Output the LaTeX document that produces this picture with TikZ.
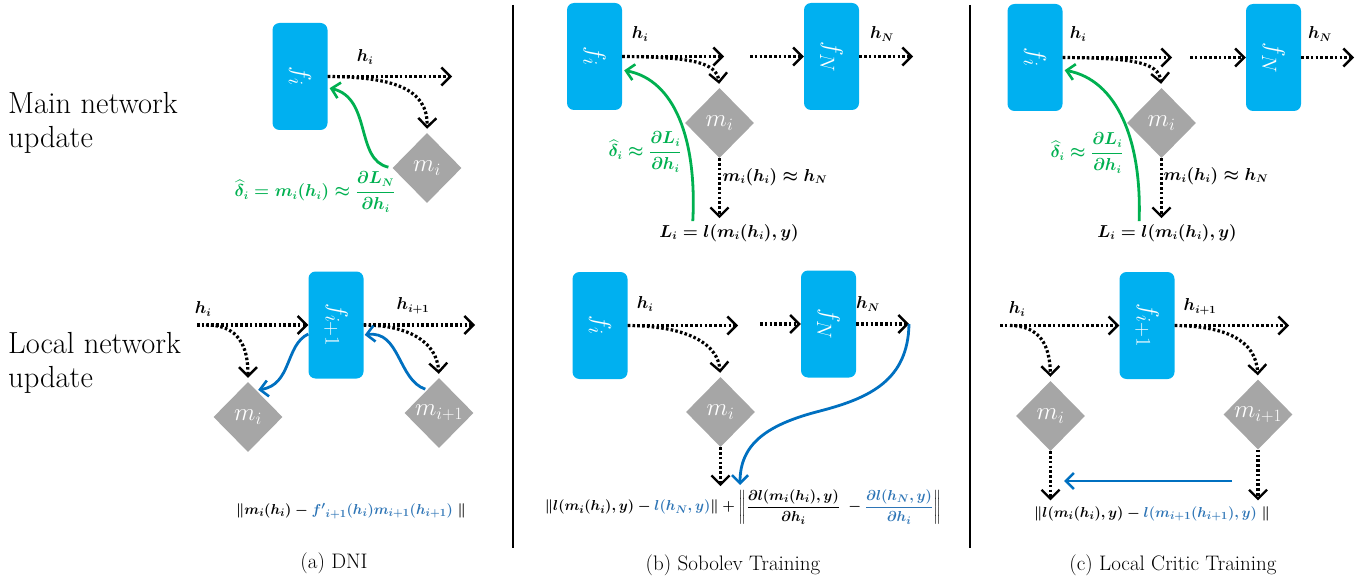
\documentclass[tikz,border=0pt]{standalone}
\usepackage{amsmath}
\usetikzlibrary{arrows.meta,shapes.geometric,calc}
\definecolor{boxblue}{HTML}{00B0F0}
\definecolor{diagray}{HTML}{A6A6A6}
\definecolor{grn}{HTML}{00B050}
\definecolor{blu}{HTML}{0070C0}
\definecolor{fblu}{HTML}{2E75B6}
\begin{document}
\begin{tikzpicture}[x=1pt,y=-1pt,
  box/.style={fill=boxblue, rounded corners=7pt, minimum width=55pt, minimum height=107pt, inner sep=0, text=white, font=\fontsize{29}{32}\selectfont},
  dia/.style={diamond, fill=diagray, minimum width=69pt, minimum height=70pt, inner sep=0, text=white, font=\fontsize{25}{28}\selectfont},
  lbl/.style={inner sep=0, font=\fontsize{16}{19}\selectfont\boldmath},
  frm/.style={inner sep=0, font=\fontsize{15.2}{18}\selectfont\boldmath},
  glbl/.style={lbl, text=grn},
  side/.style={inner sep=0, anchor=north west, align=left, font=\fontsize{30.5}{34}\selectfont},
  captext/.style={inner sep=0, font=\fontsize{21}{24}\selectfont},
  tipb/.style={-{Straight Barb[length=9pt,width=18pt,line width=2.4pt]}},
  dotarr/.style={tipb, line width=3.2pt, dash pattern=on 2.6pt off 2.2pt},
  grnarr/.style={-{Straight Barb[length=8pt,width=16pt,line width=2.6pt]}, draw=grn, line width=2.8pt},
  bluarr/.style={-{Straight Barb[length=8pt,width=16pt,line width=2.6pt]}, draw=blu, line width=2.8pt}
]
\useasboundingbox (0,0) rectangle (1371,583);

% ---------- side labels ----------
\node[side] (sideA) at (8,92) {Main network\\update};
\node[side] (sideB) at (8,332) {Local network\\update};

% ---------- separators ----------
\draw[line width=1.6pt] (513,5) -- (513,548);
\draw[line width=1.6pt] (970,5) -- (970,548);

% ================= (a) DNI =================
\node[box] (a1f) at (300,76.5) {\rotatebox{-90}{$f_i$}};
\coordinate (a1e) at (452,76.5);
\draw[dotarr] (a1f.east) -- (a1e);
\node[lbl] (a1h) at (365,57) {$h_i$};
\node[dia] (a1m) at (427,168) {$m_i$};
\draw[dotarr, shorten >=4pt] (a1f.east) .. controls (392,77) and (428,88) .. (a1m.north);
\draw[grnarr, shorten <=4pt, shorten >=2pt] (a1m.west) .. controls (355,160) and (372,98) .. (a1f.-22);
\node[glbl] (a1g) at (315,192) {$\widehat{\delta}_i = m_i(h_i) \approx \dfrac{\partial L_N}{\partial h_i}$};

\node[box] (a2f) at (336,325) {\rotatebox{-90}{$f_{i+1}$}};
\coordinate (a2s) at (197,325);
\coordinate (a2b) at (206,325);
\draw[dotarr] (a2s) -- (a2f.west);
\node[lbl] (a2h) at (203,309) {$h_i$};
\node[dia] (a2m) at (248,417) {$m_i$};
\draw[dotarr, shorten >=4pt] (a2b) .. controls (238,325) and (248,345) .. (a2m.north);
\coordinate (a2e) at (475,325);
\draw[dotarr] (a2f.east) -- (a2e);
\node[lbl] (a2k) at (413,306) {$h_{i+1}$};
\node[dia] (a2n) at (439,413) {$m_{i+1}$};
\draw[dotarr, shorten >=4pt] (a2f.east) .. controls (405,325) and (437,340) .. (a2n.north);
\draw[bluarr, shorten >=2pt] (a2f.198) .. controls (285,345) and (292,385) .. (a2m.73);
\draw[bluarr, shorten <=2pt, shorten >=1pt] (a2n.117) .. controls (398,380) and (400,330) .. (a2f.-20);
\node[frm] (a2F) at (351,511) {$\|m_i(h_i) - {\color{fblu}{f'}_{i+1}(h_i)m_{i+1}(h_{i+1})}\ \|$};
\node[captext] (capA) at (334,563) {(a) DNI};

% ================= (b) Sobolev =================
\node[box] (b1f) at (594.5,56.5) {\rotatebox{-90}{$f_i$}};
\coordinate (b1e) at (724,56.5);
\draw[dotarr] (b1f.east) -- (b1e);
\node[lbl] (b1h) at (640,34) {$h_i$};
\node[dia] (b1m) at (719.5,123) {$m_i$};
\draw[dotarr, shorten >=4pt] (b1f.east) .. controls (690,57) and (717,62) .. (b1m.north);
\coordinate (b1s) at (750,56.5);
\node[box] (b1n) at (831.5,56.5) {\rotatebox{-90}{$f_N$}};
\draw[dotarr] (b1s) -- (b1n.west);
\coordinate (b1o) at (913,56.5);
\draw[dotarr] (b1n.east) -- (b1o);
\node[lbl] (b1k) at (882,34) {$h_N$};
\node[lbl] (b1L) at (729,233) {$L_i = l(m_i(h_i),y)$};
\draw[dotarr, shorten >=6pt] (b1m.south) -- (b1m.south |- b1L.north);
\node[lbl] (b1a) at (775,177) {$m_i(h_i) \approx h_N$};
\draw[grnarr, shorten <=3pt, shorten >=2pt] ($(b1L.north west)!0.24!(b1L.north east)$) .. controls (697,140) and (675,80) .. (b1f.-26);
\node[glbl] (b1g) at (645,152) {$\widehat{\delta}_i \approx \dfrac{\partial L_i}{\partial h_i}$};

\node[box] (b2f) at (600,325.5) {\rotatebox{-90}{$f_i$}};
\node[lbl] (b2h) at (645,304) {$h_i$};
\coordinate (b2e) at (738,325.5);
\draw[dotarr] (b2f.east) -- (b2e);
\node[dia] (b2m) at (720.5,412) {$m_i$};
\draw[dotarr, shorten >=4pt] (b2f.east) .. controls (690,326) and (718,345) .. (b2m.north);
\coordinate (b2s) at (760,324);
\node[box] (b2n) at (828.5,324) {\rotatebox{-90}{$f_N$}};
\draw[dotarr] (b2s) -- (b2n.west);
\coordinate (b2o) at (909,324);
\draw[dotarr] (b2n.east) -- (b2o);
\node[lbl] (b2k) at (868,304) {$h_N$};
\node[frm] (b2F) at (743,507) {$\|l(m_i(h_i),y) - {\color{fblu}l(h_N,y)}\| + \left\|\dfrac{\partial l(m_i(h_i),y)}{\partial h_i}\ - {\color{fblu}\dfrac{\partial l(h_N,y)}{\partial h_i}}\right\|$};
\draw[dotarr, shorten >=3pt] (b2m.south) -- (b2m.south |- b2F.north);
\coordinate (b2t) at (740,485);
\draw[bluarr] (b2o) .. controls (908,380) and (870,398) .. (820,411) .. controls (765,425) and (740,445) .. (b2t);
\node[captext] (capB) at (733,565) {(b) Sobolev Training};

% ================= (c) Local critic =================
\node[box] (c1f) at (1035,57.5) {\rotatebox{-90}{$f_i$}};
\coordinate (c1e) at (1172,57.5);
\draw[dotarr] (c1f.east) -- (c1e);
\node[lbl] (c1h) at (1078,34) {$h_i$};
\node[dia] (c1m) at (1161.5,123) {$m_i$};
\draw[dotarr, shorten >=4pt] (c1f.east) .. controls (1132,58) and (1159,62) .. (c1m.north);
\coordinate (c1s) at (1190,57.5);
\node[box] (c1n) at (1273.5,57.5) {\rotatebox{-90}{$f_N$}};
\draw[dotarr] (c1s) -- (c1n.west);
\coordinate (c1o) at (1354,57.5);
\draw[dotarr] (c1n.east) -- (c1o);
\node[lbl] (c1k) at (1320,34) {$h_N$};
\node[lbl] (c1L) at (1167,233) {$L_i = l(m_i(h_i),y)$};
\draw[dotarr, shorten >=6pt] (c1m.south) -- (c1m.south |- c1L.north);
\node[lbl] (c1a) at (1216,176) {$m_i(h_i) \approx h_N$};
\draw[grnarr, shorten <=3pt, shorten >=2pt] ($(c1L.north west)!0.3!(c1L.north east)$) .. controls (1142,140) and (1117,80) .. (c1f.-24);
\node[glbl] (c1g) at (1087,153) {$\widehat{\delta}_i \approx \dfrac{\partial L_i}{\partial h_i}$};

\node[box] (c2f) at (1147,325.5) {\rotatebox{-90}{$f_{i+1}$}};
\coordinate (c2s) at (1000,325.5);
\coordinate (c2b) at (1010,325.5);
\draw[dotarr] (c2s) -- (c2f.west);
\node[lbl] (c2h) at (1017,309) {$h_i$};
\node[dia] (c2m) at (1050.5,416) {$m_i$};
\draw[dotarr, shorten >=4pt] (c2b) .. controls (1040,326) and (1050,345) .. (c2m.north);
\coordinate (c2e) at (1289,325.5);
\draw[dotarr] (c2f.east) -- (c2e);
\node[lbl] (c2k) at (1200,307) {$h_{i+1}$};
\node[dia] (c2n) at (1258,414.5) {$m_{i+1}$};
\draw[dotarr, shorten >=4pt] (c2f.east) .. controls (1225,326) and (1256,340) .. (c2n.north);
\node[frm] (c2F) at (1152,514) {$\|l(m_i(h_i),y) - {\color{fblu}l(m_{i+1}(h_{i+1}),y)}\ \|$};
\draw[dotarr, shorten >=6pt] (c2m.south) -- (c2m.south |- c2F.north);
\draw[dotarr, shorten >=6pt] (c2n.south) -- (c2n.south |- c2F.north);
\coordinate (c2p) at (1232,481);
\coordinate (c2q) at (1064,481);
\draw[bluarr] (c2p) -- (c2q);
\node[captext] (capC) at (1173,565) {(c) Local Critic Training};
\end{tikzpicture}
\end{document}
